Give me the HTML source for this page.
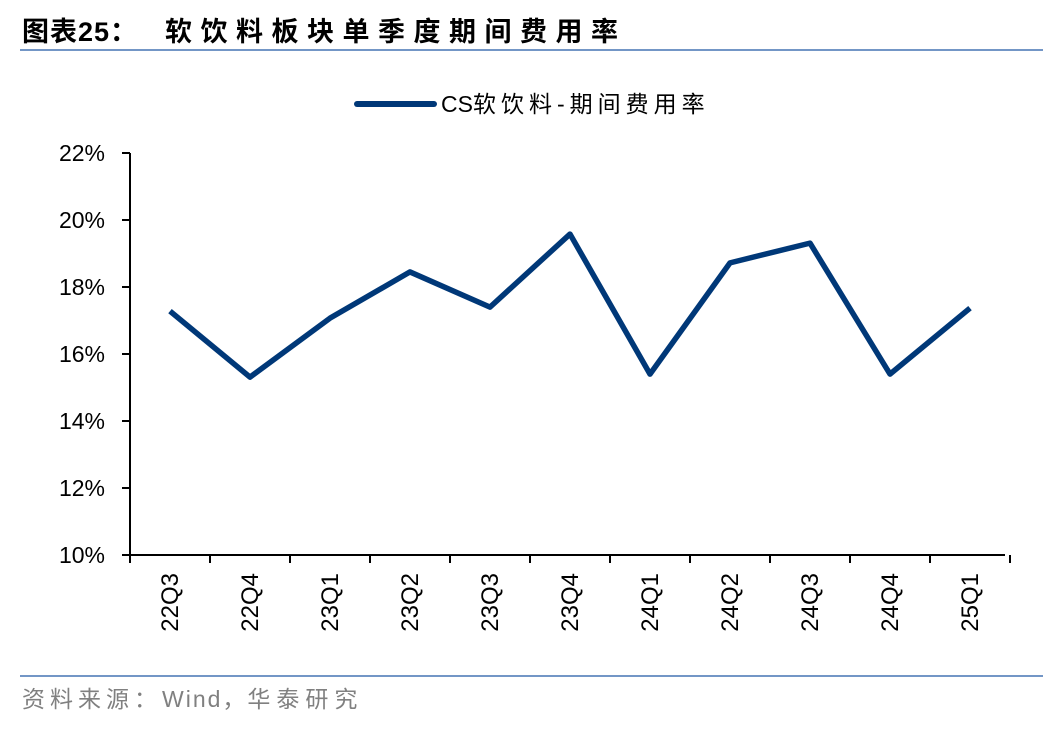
<!DOCTYPE html>
<html><head><meta charset="utf-8"><style>
body{margin:0;background:#fff;width:1048px;height:728px;overflow:hidden;font-family:"Liberation Sans","Noto Sans CJK SC",sans-serif}
</style></head><body>
<svg width="1048" height="728" xmlns="http://www.w3.org/2000/svg">
<text x="22" y="41" font-size="27" font-weight="bold" fill="#000"><tspan letter-spacing="1">图表25：</tspan><tspan x="165" letter-spacing="8.5">软饮料板块单季度期间费用率</tspan></text>
<line x1="20" y1="50" x2="1043" y2="50" stroke="#7396c6" stroke-width="2"/>
<g>
<line x1="357" y1="104" x2="434" y2="104" stroke="#003878" stroke-width="6" stroke-linecap="round"/>
<text x="441" y="112" font-size="23" fill="#000"><tspan>CS</tspan><tspan letter-spacing="5">软饮料-期间费用率</tspan></text>
</g>
<g id="axes"></g>
<path id="series" fill="none" stroke="#003878" stroke-width="5.5" stroke-linejoin="round"/>
<line x1="20" y1="676" x2="1043" y2="676" stroke="#7396c6" stroke-width="2"/>
<text x="22" y="707" font-size="23" fill="#808080"><tspan letter-spacing="5">资料来源：</tspan><tspan letter-spacing="2">Wind，</tspan><tspan letter-spacing="6">华泰研究</tspan></text>
</svg>
<script>
const categories=["22Q3","22Q4","23Q1","23Q2","23Q3","23Q4","24Q1","24Q2","24Q3","24Q4","25Q1"];
const values=[17.28,15.31,17.07,18.45,17.4,19.58,15.4,18.72,19.31,15.4,17.37];
const yTicks=[10,12,14,16,18,20,22];
const NS="http://www.w3.org/2000/svg";
const x0=130,step=80,yb=555,yt=153,ymin=10,ymax=22;
const xs=i=>x0+step*(i+0.5);
const ys=v=>yb-(v-ymin)/(ymax-ymin)*(yb-yt);
const g=document.getElementById('axes');
function mk(t,a){const e=document.createElementNS(NS,t);for(const k in a)e.setAttribute(k,a[k]);g.appendChild(e);return e;}
let e=mk('line',{x1:x0,y1:yt,x2:x0,y2:yb,stroke:'#000','stroke-width':2});


e=mk('line',{x1:x0,y1:yb,x2:1005,y2:yb,stroke:'#000','stroke-width':2});


yTicks.forEach(v=>{
 const y=ys(v);
 let t=mk('line',{x1:x0-8,y1:y,x2:x0,y2:y,stroke:'#000','stroke-width':2});
 
 
 let l=mk('text',{x:105,y:y+8,'text-anchor':'end','font-size':23,fill:'#000'});
 l.textContent=v+'%';
 
 
});
for(let i=0;i<=categories.length;i++){
 let t=mk('line',{x1:x0+step*i,y1:yb,x2:x0+step*i,y2:yb+8,stroke:'#000','stroke-width':2});
 
 
}
categories.forEach((c,i)=>{
 const x=xs(i)+8,y=573;
 let l=mk('text',{x:x,y:y,'text-anchor':'end','font-size':24,fill:'#000',transform:`rotate(-90 ${x} ${y})`});
 l.textContent=c;
 
 
});
document.getElementById('series').setAttribute('d',values.map((v,i)=>(i?'L':'M')+xs(i)+' '+ys(v)).join(' '));
</script>
</body></html>
